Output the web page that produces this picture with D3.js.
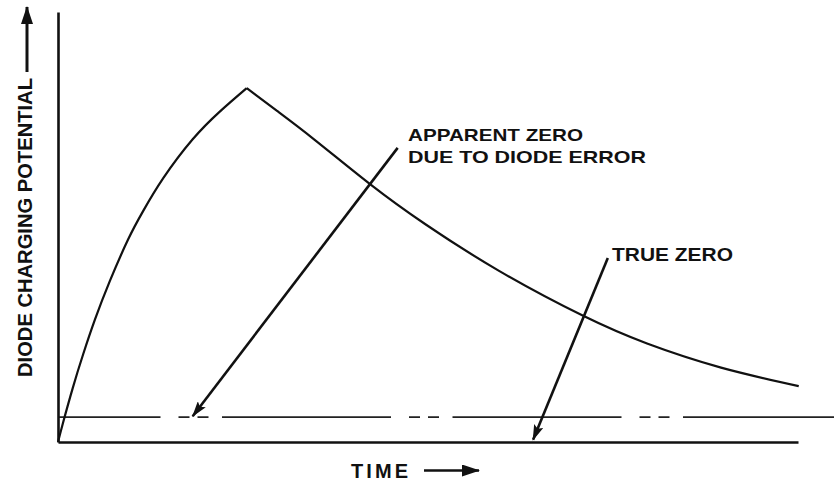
<!DOCTYPE html>
<html>
<head>
<meta charset="utf-8">
<script src="https://cdn.jsdelivr.net/npm/d3@7"></script>
<style>
  html, body { margin: 0; padding: 0; background: #fff; }
  svg { display: block; }
  text { font-family: "Liberation Sans", Arial, sans-serif; font-weight: bold; fill: #111; }
</style>
</head>
<body>
<div id="chart"></div>
<script>
// ---- data (arbitrary units) ----
const riseTime = [0, 0.07, 0.20, 0.34, 0.50, 0.70, 0.95, 1.15, 1.42, 1.82, 2.19, 2.55];
const riseValue = [0, 0.46, 1.26, 2.04, 2.85, 3.74, 4.72, 5.37, 6.13, 7.04, 7.69, 8.23];
const decayTime = [2.55, 2.96, 3.46, 4.23, 4.96, 5.96, 7.09, 7.96, 8.96, 10.01];
const decayValue = [8.23, 7.70, 7.04, 5.98, 5.07, 3.98, 2.94, 2.29, 1.73, 1.30];
const apparentZero = 0.58;
const annotationLabels = [["APPARENT ZERO", "DUE TO DIODE ERROR"], ["TRUE ZERO"]];
const annotationFrom = [[4.59, 6.84], [7.43, 4.28]];
const annotationTo = [[1.82, 0.60], [6.42, 0.05]];
const axisLabels = ["TIME", "DIODE CHARGING POTENTIAL"];

const W = 834, H = 484;
const x = d3.scaleLinear().domain([0, 10]).range([58, 798]);
const y = d3.scaleLinear().domain([0, 10]).range([442, 12]);

const svg = d3.select("#chart").append("svg").attr("width", W).attr("height", H);
svg.append("rect").attr("width", W).attr("height", H).attr("fill", "#fff");

const defs = svg.append("defs");
defs.append("marker").attr("id", "head").attr("viewBox", "0 0 16 10")
  .attr("refX", 15).attr("refY", 5).attr("markerWidth", 16).attr("markerHeight", 10)
  .attr("markerUnits", "userSpaceOnUse").attr("orient", "auto")
  .append("path").attr("d", "M0,0 L16,5 L0,10 L3,5 Z").attr("fill", "#111");
defs.append("marker").attr("id", "head2").attr("viewBox", "0 0 18 12")
  .attr("refX", 17).attr("refY", 6).attr("markerWidth", 18).attr("markerHeight", 12)
  .attr("markerUnits", "userSpaceOnUse").attr("orient", "auto")
  .append("path").attr("d", "M0,0 L18,6 L0,12 Z").attr("fill", "#111");

// apparent zero dash-dot-dot line
svg.append("line")
  .attr("x1", x(0)).attr("x2", W)
  .attr("y1", y(apparentZero)).attr("y2", y(apparentZero))
  .attr("stroke", "#222").attr("stroke-width", 1.8)
  .attr("stroke-dasharray", "169 18 11 8 11 13.5")
  .attr("stroke-dashoffset", 66.5);

// axes
const xAxis = d3.axisBottom(x).tickValues([]).tickSizeOuter(0);
const yAxis = d3.axisLeft(y).tickValues([]).tickSizeOuter(0);
svg.append("g").attr("transform", `translate(0,${y(0)})`).call(xAxis)
  .select(".domain").attr("stroke", "#111").attr("stroke-width", 2.6);
svg.append("g").attr("transform", `translate(${x(0)},0)`).call(yAxis)
  .select(".domain").attr("stroke", "#111").attr("stroke-width", 2.6);

// curves
const line = d3.line().x(d => x(d[0])).y(d => y(d[1])).curve(d3.curveNatural);
svg.append("path").datum(riseTime.map((t, i) => [t, riseValue[i]]))
  .attr("d", line).attr("fill", "none").attr("stroke", "#111").attr("stroke-width", 2.2);
svg.append("path").datum(decayTime.map((t, i) => [t, decayValue[i]]))
  .attr("d", line).attr("fill", "none").attr("stroke", "#111").attr("stroke-width", 2.2);

// annotation arrows
annotationFrom.forEach((f, i) => {
  svg.append("line")
    .attr("x1", x(f[0])).attr("y1", y(f[1]))
    .attr("x2", x(annotationTo[i][0])).attr("y2", y(annotationTo[i][1]))
    .attr("stroke", "#111").attr("stroke-width", 2.6)
    .attr("marker-end", "url(#head)");
});

// annotation text
svg.append("text").attr("x", 408).attr("y", 141).attr("font-size", 17)
  .attr("textLength", 175).attr("lengthAdjust", "spacingAndGlyphs").text(annotationLabels[0][0]);
svg.append("text").attr("x", 408).attr("y", 163).attr("font-size", 17)
  .attr("textLength", 238).attr("lengthAdjust", "spacingAndGlyphs").text(annotationLabels[0][1]);
svg.append("text").attr("x", 612).attr("y", 261).attr("font-size", 18)
  .attr("textLength", 121).attr("lengthAdjust", "spacingAndGlyphs").text(annotationLabels[1][0]);

// x label + arrow
svg.append("text").attr("x", 351).attr("y", 478).attr("font-size", 20)
  .attr("textLength", 57).attr("lengthAdjust", "spacing").text(axisLabels[0]);
svg.append("line").attr("x1", 424).attr("x2", 479).attr("y1", 470.5).attr("y2", 470.5)
  .attr("stroke", "#111").attr("stroke-width", 2.6).attr("marker-end", "url(#head2)");

// y label + arrow
svg.append("text").attr("transform", "translate(32,377) rotate(-90)")
  .attr("font-size", 21).attr("textLength", 299).attr("lengthAdjust", "spacingAndGlyphs")
  .text(axisLabels[1]);
svg.append("line").attr("x1", 27).attr("x2", 27).attr("y1", 72).attr("y2", 7)
  .attr("stroke", "#111").attr("stroke-width", 3).attr("marker-end", "url(#head2)");
</script>
</body>
</html>
